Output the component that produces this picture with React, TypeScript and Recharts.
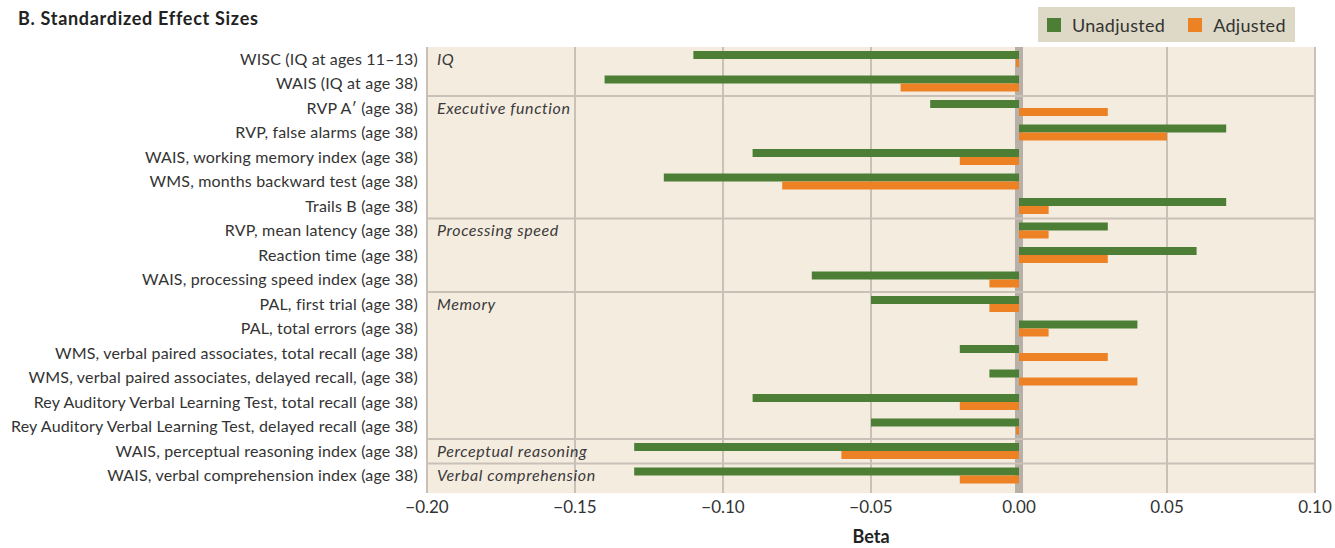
import React from 'react';
import {
  BarChart,
  Bar,
  XAxis,
  YAxis,
  CartesianGrid,
  ReferenceLine,
} from 'recharts';

const measures = [
  'WISC (IQ at ages 11\u201313)',
  'WAIS (IQ at age 38)',
  'RVP A\u2032 (age 38)',
  'RVP, false alarms (age 38)',
  'WAIS, working memory index (age 38)',
  'WMS, months backward test (age 38)',
  'Trails B (age 38)',
  'RVP, mean latency (age 38)',
  'Reaction time (age 38)',
  'WAIS, processing speed index (age 38)',
  'PAL, first trial (age 38)',
  'PAL, total errors (age 38)',
  'WMS, verbal paired associates, total recall (age 38)',
  'WMS, verbal paired associates, delayed recall, (age 38)',
  'Rey Auditory Verbal Learning Test, total recall (age 38)',
  'Rey Auditory Verbal Learning Test, delayed recall (age 38)',
  'WAIS, perceptual reasoning index (age 38)',
  'WAIS, verbal comprehension index (age 38)',
];

const unadjusted = [
  -0.11, -0.14, -0.03, 0.07, -0.09, -0.12, 0.07, 0.03, 0.06, -0.07, -0.05, 0.04, -0.02, -0.01,
  -0.09, -0.05, -0.13, -0.13,
];

const adjusted = [
  -0.001, -0.04, 0.03, 0.05, -0.02, -0.08, 0.01, 0.01, 0.03, -0.01, -0.01, 0.01, 0.03, 0.04,
  -0.02, -0.001, -0.06, -0.02,
];

// group name and index of its first measure
const groups = [
  { name: 'IQ', start: 0 },
  { name: 'Executive function', start: 2 },
  { name: 'Processing speed', start: 7 },
  { name: 'Memory', start: 10 },
  { name: 'Perceptual reasoning', start: 16 },
  { name: 'Verbal comprehension', start: 17 },
];

const xTicks = [-0.2, -0.15, -0.1, -0.05, 0, 0.05, 0.1];

const data = measures.map((m, i) => ({
  measure: m,
  unadjusted: unadjusted[i],
  adjusted: adjusted[i],
}));

const GREEN = '#4c7f35';
const ORANGE = '#ec8224';
const GRID = '#c9c1b8';
const FONT = 'Lato, "Open Sans", sans-serif';

const series = [
  { key: 'unadjusted', name: 'Unadjusted', color: GREEN },
  { key: 'adjusted', name: 'Adjusted', color: ORANGE },
];

const fmt = (v: number) => (v < 0 ? '\u2212' : '') + Math.abs(v).toFixed(2);

const LegendBox = () => (
  <div
    style={{
      position: 'absolute',
      left: 1038,
      top: 7,
      width: 257,
      height: 35,
      boxSizing: 'border-box',
      background: '#ded9c6',
      display: 'flex',
      alignItems: 'center',
      paddingLeft: 9,
      fontSize: 18,
      letterSpacing: 0.3,
      color: '#333',
      whiteSpace: 'nowrap',
    }}
  >
    {series.map((s) => (
      <div key={s.key} style={{ display: 'flex', alignItems: 'center', marginRight: 23 }}>
        <span style={{ width: 14, height: 14, background: s.color, marginRight: 11 }} />
        <span>{s.name}</span>
      </div>
    ))}
  </div>
);

export default function App() {
  return (
    <div
      style={{
        position: 'absolute',
        left: 0,
        top: 0,
        width: 1335,
        height: 548,
        background: '#fff',
        fontFamily: FONT,
      }}
    >
      <div
        style={{
          position: 'absolute',
          left: 18,
          top: 7,
          fontSize: 18,
          letterSpacing: 0.7,
          fontWeight: 700,
          color: '#222',
        }}
      >
        B. Standardized Effect Sizes
      </div>
      <LegendBox />
      <BarChart
        width={1335}
        height={548}
        data={data}
        layout="vertical"
        margin={{ top: 47, right: 20, bottom: 0, left: 0 }}
        barSize={8}
        barGap={0}
      >
        <CartesianGrid
          fill="#f5ece0"
          horizontal={false}
          vertical={(p: any) => {
            const zero = xTicks[p.index] === 0;
            return (
              <line
                key={'v' + p.index}
                x1={p.x1}
                x2={p.x2}
                y1={p.y1}
                y2={p.y2}
                stroke={zero ? '#b7b0a9' : GRID}
                strokeWidth={zero ? 8 : 2}
              />
            );
          }}
        />
        <XAxis
          type="number"
          domain={[-0.2, 0.1]}
          ticks={xTicks}
          tickFormatter={fmt}
          axisLine={false}
          tickLine={false}
          tick={{ fill: '#333', fontSize: 17, fontFamily: FONT }}
          height={55}
          label={{
            value: 'Beta',
            position: 'insideBottom',
            offset: 5,
            fill: '#222',
            fontSize: 18,
            fontWeight: 700,
            fontFamily: FONT,
          }}
        />
        <YAxis
          type="category"
          dataKey="measure"
          width={427}
          interval={0}
          axisLine={false}
          tickLine={false}
          tickMargin={3}
          padding={{ top: 0, bottom: 5 }}
          tick={{ fill: '#333', fontSize: 16, letterSpacing: 0.17, fontFamily: FONT }}
        />
        {groups.slice(1).map((g) => (
          <ReferenceLine
            key={'sep-' + g.name}
            y={measures[g.start]}
            position="start"
            stroke={GRID}
            strokeWidth={2}
          />
        ))}
        {groups.map((g) => (
          <ReferenceLine
            key={g.name}
            y={measures[g.start]}
            stroke="none"
            label={{
              value: g.name,
              position: 'insideLeft',
              offset: 10,
              fill: '#3a3a3a',
              fontSize: 16,
              letterSpacing: 0.6,
              fontStyle: 'italic',
              fontFamily: FONT,
            }}
          />
        ))}
        {series.map((s) => (
          <Bar key={s.key} dataKey={s.key} name={s.name} fill={s.color} isAnimationActive={false} />
        ))}
      </BarChart>
    </div>
  );
}
